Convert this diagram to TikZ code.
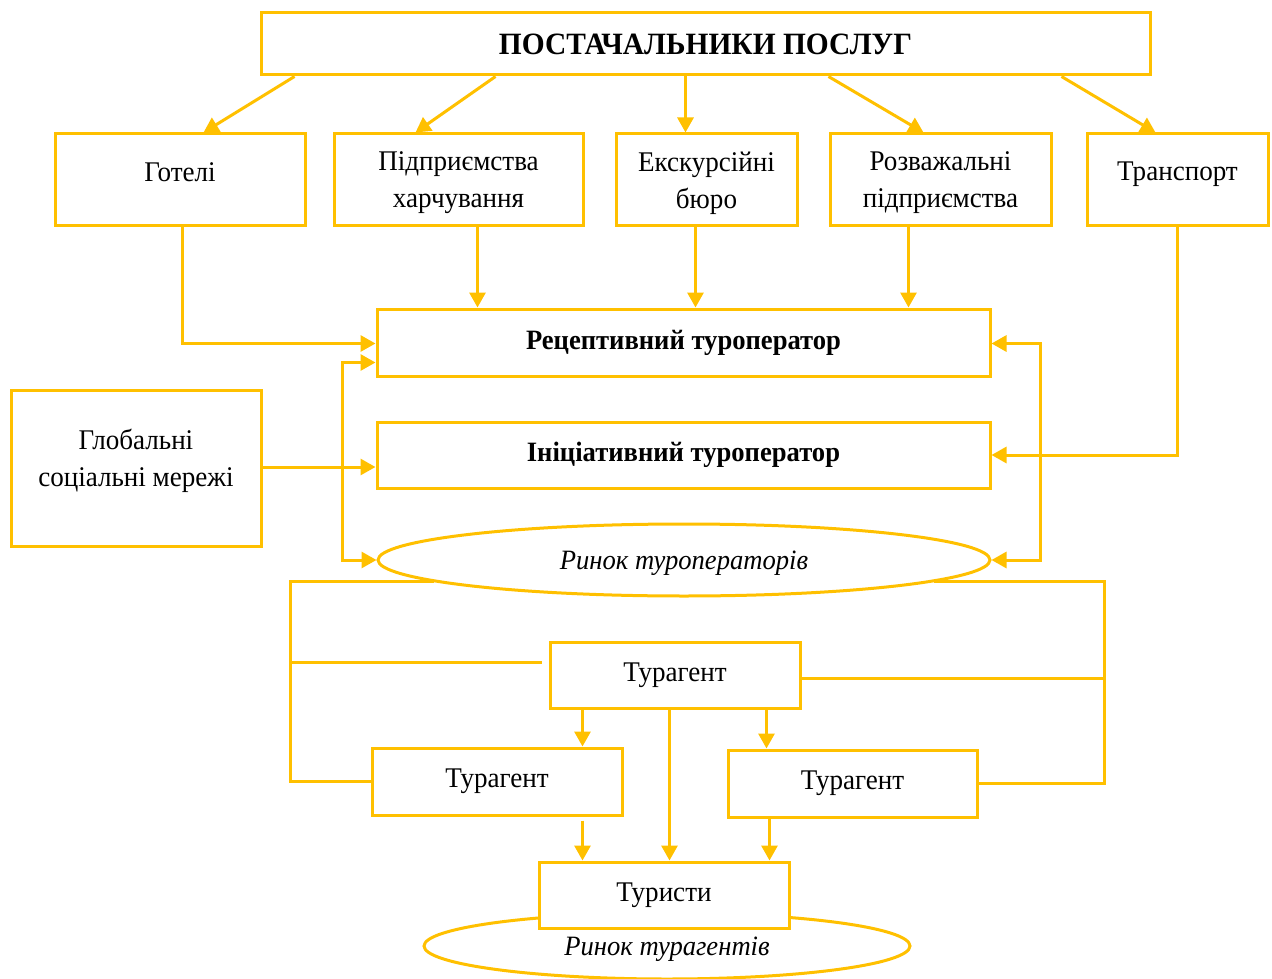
\documentclass[tikz,border=0pt]{standalone}
\usepackage{fontspec}
\setmainfont{Liberation Serif}[FakeStretch=0.95]
\usetikzlibrary{arrows.meta,shapes.geometric}
\definecolor{gold}{HTML}{FFC000}
\begin{document}
\begin{tikzpicture}[x=1pt,y=-1pt,
  box/.style={draw=gold, line width=3pt, fill=white, inner sep=0pt},
  txt/.style={font=\fontsize{28.5}{37}\selectfont, align=center, inner sep=0pt},
  boldtxt/.style={font=\fontsize{28}{32}\selectfont\bfseries},
  ln/.style={draw=gold, line width=3pt},
  arr/.style={ln, -{Triangle[length=15pt,width=16pt]}},
  barr/.style={ln, {Triangle[length=15pt,width=16pt]}-{Triangle[length=15pt,width=16pt]}},
  oval/.style={ellipse, draw=gold, line width=3pt, fill=white, inner sep=0pt},
  ovaltxt/.style={font=\fontsize{28}{32}\selectfont\itshape, inner sep=0pt},
]
\useasboundingbox (0,0) rectangle (1272,979);

% top row
\node[box, minimum width=889, minimum height=62, font=\fontsize{31}{36}\selectfont\bfseries] (top) at (705.5,44) {ПОСТАЧАЛЬНИКИ ПОСЛУГ};

\node[box, minimum width=250, minimum height=91] (hot) at (180,179.5) {};
\node[txt] (hott) at (180,172) {Готелі};
\node[box, minimum width=249, minimum height=91] (food) at (458.5,179.5) {};
\node[txt] (foodt) at (458.5,183) {Підприємства\\харчування};
\node[box, minimum width=181, minimum height=91] (exc) at (706.5,179.5) {};
\node[txt] (exct) at (706.5,183) {Екскурсійні\\бюро};
\node[box, minimum width=221, minimum height=91] (ent) at (940.5,179.5) {};
\node[txt] (entt) at (940.5,183) {Розважальні\\підприємства};
\node[box, minimum width=181, minimum height=91] (trn) at (1177.5,179.5) {};
\node[txt] (trnt) at (1177.5,174) {Транспорт};

% operators
\node[box, boldtxt, minimum width=613, minimum height=67] (rec) at (683.5,342.5) {Рецептивний туроператор};
\node[box, boldtxt, minimum width=613, minimum height=66] (ini) at (683.5,455) {Ініціативний туроператор};
\node[box, minimum width=250, minimum height=156] (glob) at (136,468) {};
\node[txt] (globt) at (136,461) {Глобальні\\соціальні мережі};
\node[oval, minimum width=612, minimum height=72] (mt) at (684,560) {};
\node[ovaltxt] (mtt) at (684,563) {Ринок туроператорів};

% agents
\node[oval, minimum width=486, minimum height=66] (mta) at (667,946) {};
\node[ovaltxt] (mtat) at (667,949) {Ринок турагентів};
\node[box, txt, minimum width=250, minimum height=66] (tu) at (664,895) {Туристи};
\node[box, txt, minimum width=250, minimum height=66] (ta) at (675,675) {Турагент};
\node[box, txt, minimum width=250, minimum height=67] (tl) at (497,781.5) {Турагент};
\node[box, txt, minimum width=249, minimum height=67] (tr) at (852.5,783.5) {Турагент};

% arrows from suppliers
\draw[arr] ([xshift=35]top.south west) -- ([xshift=150]hot.north west);
\draw[arr] ([xshift=236]top.south west) -- ([xshift=83]food.north west);
\draw[arr] ([xshift=426]top.south west) -- ([xshift=71]exc.north west);
\draw[arr] ([xshift=569]top.south west) -- ([xshift=95]ent.north west);
\draw[arr] ([xshift=802]top.south west) -- ([xshift=70]trn.north west);

% into operators
\draw[arr] ([xshift=129]hot.south west) |- ([yshift=-1]rec.west);
\draw[arr] ([xshift=145]food.south west) coordinate (f1) -- (f1 |- rec.north);
\draw[arr] ([xshift=81]exc.south west) coordinate (f2) -- (f2 |- rec.north);
\draw[arr] ([xshift=80]ent.south west) coordinate (f3) -- (f3 |- rec.north);
\draw[arr] ([xshift=92]trn.south west) |- (ini.east);
\draw[barr] ([yshift=-1]rec.east) -| ([xshift=49]mt.east) -- (mt.east);
\draw[barr] ([yshift=-20]rec.west) -| ([xshift=-34]mt.west) -- (mt.west);
\coordinate (gi) at ([yshift=-12]ini.west);
\draw[arr] (gi -| glob.east) -- (gi);

% market to agents
\coordinate (lx) at ([xshift=-80]tl.west);
\coordinate (rx) at ([xshift=126]tr.east);
\draw[ln] (mt.185) -| (lx) -- (tl.west);
\draw[ln] (mt.-5) -| (rx) -- (tr.east);
\coordinate (tal) at ([xshift=-7,yshift=13]ta.west);
\draw[ln] (tal -| lx) -- (tal);
\coordinate (tae) at ([yshift=-3]ta.east);
\draw[ln] (tae) -- (tae -| rx);

% agents to tourists
\draw[arr] ([xshift=34]ta.south west) coordinate (g1) -- (g1 |- tl.north);
\draw[arr] ([xshift=218]ta.south west) coordinate (g2) -- (g2 |- tr.north);
\draw[arr] ([xshift=121]ta.south west) coordinate (g3) -- (g3 |- tu.north);
\draw[arr] ([xshift=212,yshift=-4]tl.south west) coordinate (g4) -- (g4 |- tu.north);
\draw[arr] ([xshift=43]tr.south west) coordinate (g5) -- (g5 |- tu.north);
\end{tikzpicture}
\end{document}
